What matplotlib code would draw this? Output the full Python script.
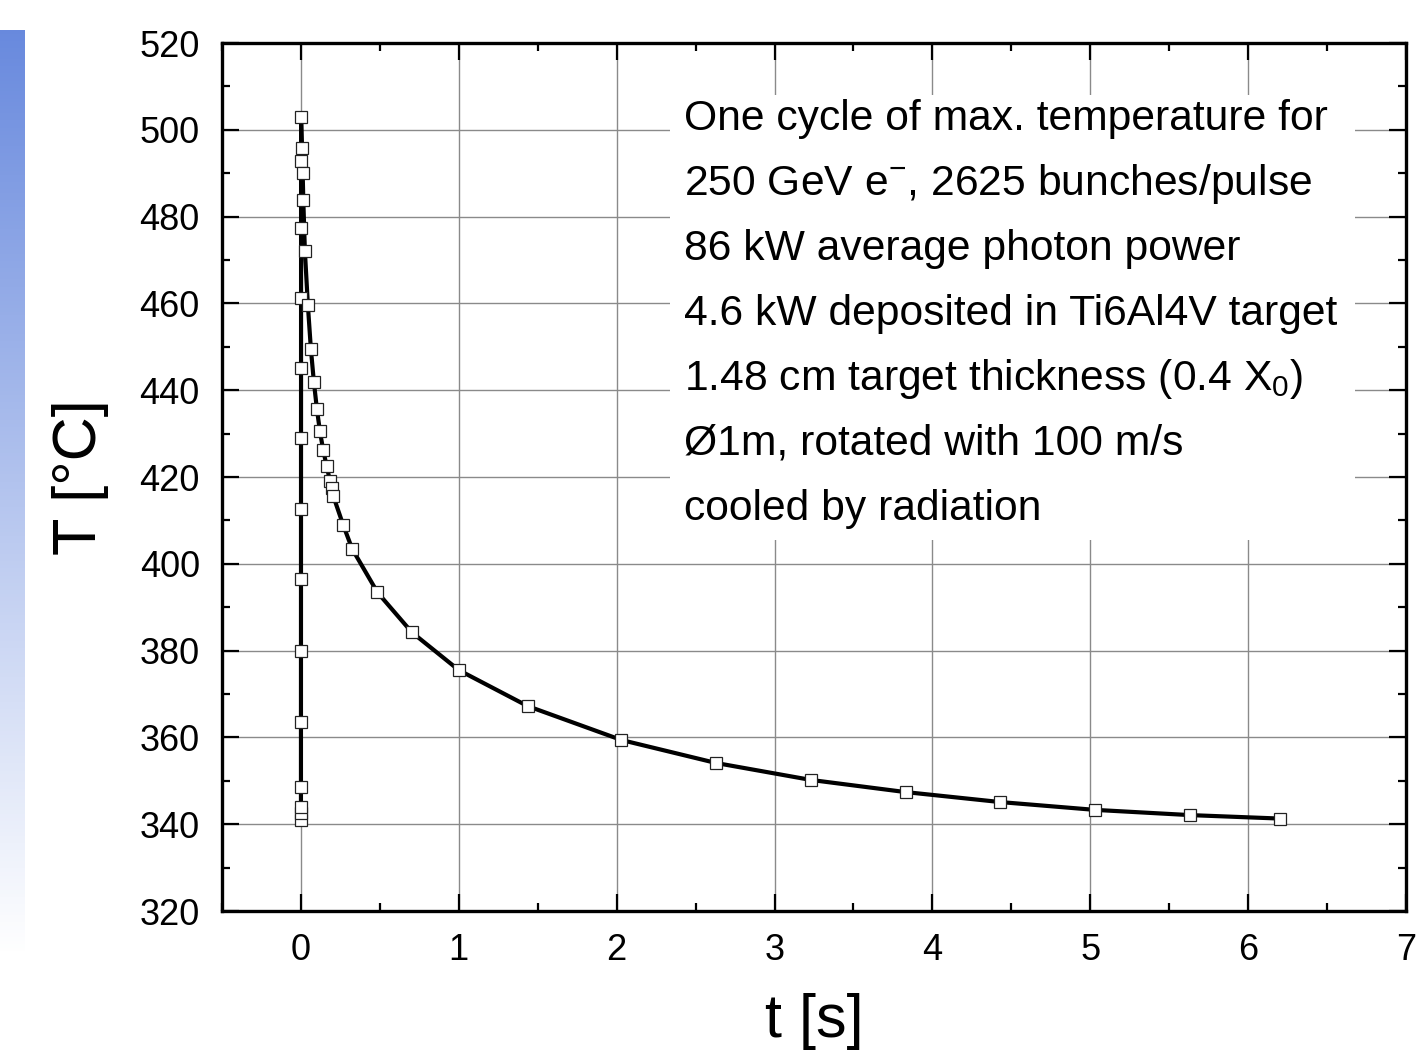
import numpy as np
import matplotlib
matplotlib.use('Agg')
import matplotlib.pyplot as plt
from matplotlib.patches import Rectangle

plt.rcParams['font.family'] = ['Liberation Sans', 'DejaVu Sans']
plt.rcParams['mathtext.fontset'] = 'custom'
plt.rcParams['mathtext.rm'] = 'Liberation Sans'
plt.rcParams['mathtext.it'] = 'Liberation Sans'

# heating during the bunch train (t ~ 0)
t_heat = [0.0, 0.00005, 0.0001, 0.00015, 0.0002, 0.0003, 0.0004, 0.0005,
          0.0006, 0.0007, 0.0008, 0.00085, 0.0009, 0.001]
T_heat = [341.0, 342.5, 344.0, 348.6, 363.5, 379.9, 396.5, 412.6,
          429.0, 445.1, 461.2, 477.4, 492.8, 503.0]

# radiative cooling
t_cool = [0.006, 0.011, 0.015, 0.025, 0.044, 0.063, 0.082, 0.101, 0.120,
          0.141, 0.163, 0.184, 0.194, 0.205, 0.268, 0.325, 0.485, 0.703,
          1.0, 1.437, 2.03, 2.63, 3.23, 3.83, 4.43, 5.03, 5.63, 6.20]
T_cool = [495.8, 490.0, 483.8, 472.1, 459.6, 449.5, 441.9, 435.7, 430.6,
          426.2, 422.5, 419.1, 417.5, 415.6, 408.9, 403.4, 393.4, 384.2,
          375.5, 367.2, 359.4, 354.1, 350.2, 347.4, 345.1, 343.3, 342.1, 341.3]

t = np.array(t_heat + t_cool)
T = np.array(T_heat + T_cool)

info_lines = ['One cycle of max. temperature for',
              '250 GeV e$^{-}$, 2625 bunches/pulse',
              '86 kW average photon power',
              '4.6 kW deposited in Ti6Al4V target',
              '1.48 cm target thickness (0.4 X$_0$)',
              '\u00d81m, rotated with 100 m/s',
              'cooled by radiation']

fig = plt.figure(figsize=(14.21, 10.51), dpi=100)

# blue gradient strip at left edge (slide decoration)
sax = fig.add_axes([0, 1 - 955 / 1051, 25 / 1421, (955 - 30) / 1051])
grad = np.linspace(0, 1, 256).reshape(-1, 1)
top = np.array([0.41, 0.54, 0.87])
bot = np.array([1.0, 1.0, 1.0])
img = top[None, None, :] * (1 - grad[:, :, None]) + bot[None, None, :] * grad[:, :, None]
sax.imshow(img, aspect='auto')
sax.axis('off')

ax = fig.add_axes([222 / 1421, 1 - 911 / 1051, (1406 - 222) / 1421, (911 - 43) / 1051])

ax.plot(t, T, color='black', lw=3.0, zorder=3)
ax.plot(t, T, ls='none', marker='s', ms=8, mfc='white', mec='#222222', mew=0.9, zorder=4)

ax.set_xlim(-0.5, 7)
ax.set_ylim(320, 520)
ax.set_xticks(np.arange(0, 8, 1))
ax.set_xticks(np.arange(-0.5, 7.01, 0.5), minor=True)
ax.set_yticks(np.arange(320, 521, 20))
ax.set_yticks(np.arange(320, 521, 10), minor=True)
ax.grid(True, which='major', color='#8a8a8a', lw=1.0, zorder=0)
ax.set_axisbelow(True)

ax.tick_params(which='both', direction='in', top=True, right=True, width=1.6,
               labelsize=26, pad=16)
ax.tick_params(which='major', length=12)
ax.tick_params(which='minor', length=6)
for s in ax.spines.values():
    s.set_linewidth(2.4)

ax.set_xlabel('t [s]', fontsize=44, labelpad=18)
ax.set_ylabel('T [\u00b0C]', fontsize=44, labelpad=22)

# white box behind the annotation
ax.add_patch(Rectangle((0.378, 0.427), 0.579, 0.513, transform=ax.transAxes,
                       facecolor='white', edgecolor='none', zorder=1))
for i, line in enumerate(info_lines):
    yb = (911 - (130 + 65 * i)) / 868
    ax.text((684 - 222) / 1184, yb, line, transform=ax.transAxes,
            fontsize=30.7, va='baseline', ha='left', zorder=2)

fig.savefig('out.png', dpi=100)
